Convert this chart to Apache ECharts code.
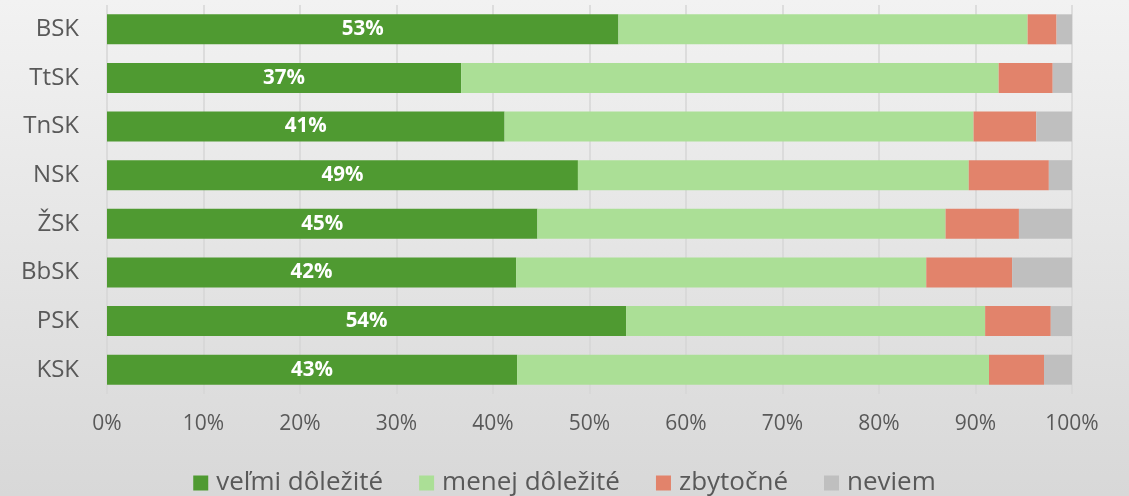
<!DOCTYPE html>
<html>
<head>
<meta charset="utf-8">
<script src="https://cdn.jsdelivr.net/npm/echarts@6/dist/echarts.min.js"></script>
<style>
  html, body { margin: 0; padding: 0; }
  #chart { width: 1129px; height: 496px; }
</style>
</head>
<body>
<div id="chart"></div>
<script>
// Regions, top to bottom
const regions = ['BSK', 'TtSK', 'TnSK', 'NSK', 'ŽSK', 'BbSK', 'PSK', 'KSK'];

// Shares of answers per region (percent)
const velmiDolezite = [53.0, 36.7, 41.2, 48.8, 44.6, 42.4, 53.8, 42.5];
const menejDolezite = [42.4, 55.7, 48.6, 40.5, 42.3, 42.5, 37.2, 48.9];
const zbytocne      = [3.0, 5.6, 6.5, 8.3, 7.6, 8.9, 6.8, 5.7];
const neviem        = [1.6, 2.0, 3.7, 2.4, 5.5, 6.2, 2.2, 2.9];

const seriesNames = ['veľmi dôležité', 'menej dôležité', 'zbytočné', 'neviem'];
const seriesColors = ['#4f9a31', '#abdf96', '#e2836b', '#bfbfbf'];

const FONT = '"Open Sans", "Noto Sans", sans-serif';
const TEXT = '#595959';

const chart = echarts.init(document.getElementById('chart'), null, { renderer: 'canvas' });

const stacks = [velmiDolezite, menejDolezite, zbytocne, neviem];

const option = {
  backgroundColor: {
    type: 'linear', x: 0, y: 0, x2: 0, y2: 1,
    colorStops: [
      { offset: 0, color: '#f2f2f2' },
      { offset: 1, color: '#d8d8d8' }
    ]
  },
  animation: false,
  grid: { left: 107, right: 57, top: 5, bottom: 102, containLabel: false },
  xAxis: {
    type: 'value',
    min: 0, max: 100, interval: 10,
    axisLine: { show: false },
    axisTick: { show: false },
    splitLine: { show: true, lineStyle: { color: '#d6d6d6', width: 1.5 } },
    axisLabel: {
      formatter: '{value}%',
      color: TEXT, fontFamily: FONT, fontSize: 21, margin: 20
    }
  },
  yAxis: {
    type: 'category',
    data: regions,
    inverse: true,
    axisLine: { show: false },
    axisTick: { show: false },
    axisLabel: { color: TEXT, fontFamily: FONT, fontSize: 24, margin: 28 }
  },
  legend: {
    data: seriesNames,
    left: 'center', top: 465,
    itemWidth: 15, itemHeight: 15,
    itemGap: 36,
    icon: 'rect',
    textStyle: { color: TEXT, fontFamily: FONT, fontSize: 26, padding: [0, 0, 0, 3] }
  },
  series: stacks.map((vals, i) => ({
    name: seriesNames[i],
    type: 'bar',
    stack: 'total',
    barWidth: 30,
    data: vals,
    itemStyle: { color: seriesColors[i] },
    label: i === 0 ? {
      show: true,
      position: 'inside',
      formatter: p => Math.round(p.value) + '%',
      color: '#ffffff', fontFamily: FONT, fontSize: 20.5, fontWeight: 'bold'
    } : { show: false }
  }))
};

chart.setOption(option);
</script>
</body>
</html>
